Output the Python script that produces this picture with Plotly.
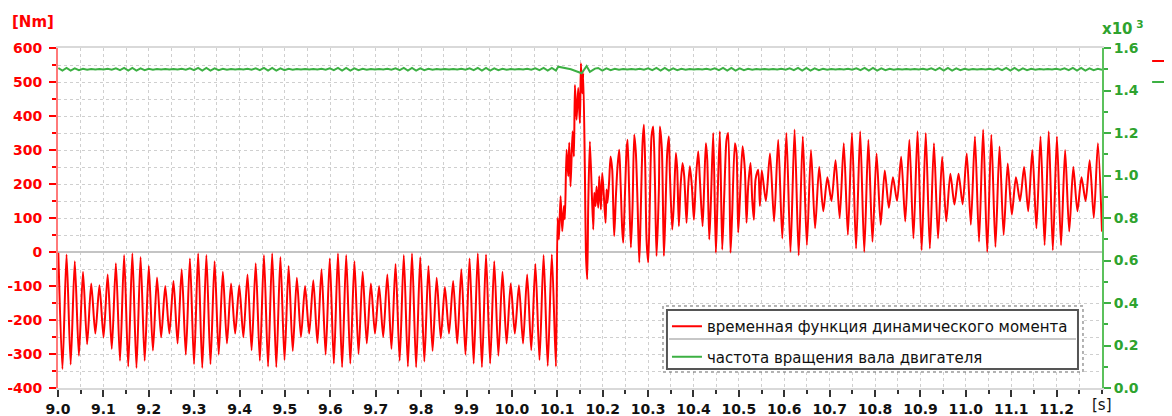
import numpy as np
import plotly.graph_objects as go

# ---------------- data ----------------
x_tick_labels = ["9.0", "9.1", "9.2", "9.3", "9.4", "9.5", "9.6", "9.7", "9.8", "9.9", "10.0",
                 "10.1", "10.2", "10.3", "10.4", "10.5", "10.6", "10.7", "10.8", "10.9", "11.0",
                 "11.1", "11.2"]
y_left_labels = ["-400", "-300", "-200", "-100", "0", "100", "200", "300", "400", "500", "600"]
y_right_labels = ["0.0", "0.2", "0.4", "0.6", "0.8", "1.0", "1.2", "1.4", "1.6"]

# torque [Nm] before the load step: successive extrema, evenly sampled in time
torque_pre_t0, torque_pre_t1 = 9.0007, 10.0970
torque_pre = [-2, -344, -7, -331, -27, -305, -58, -271, -93, -240, -98, -251, -66, -285, -33, -320,
              -9, -337, -4, -341, -15, -320, -41, -290, -75, -251, -100, -240, -85, -269, -51, -302,
              -19, -330, -4, -341, -9, -330, -27, -302, -58,
              -269, -93, -240, -98, -251, -66, -289, -33, -320, -9, -337, -4, -339, -15, -318, -41,
              -291, -76, -250, -100, -240, -83, -268, -51, -302, -19, -328, -4, -339, -9, -328, -27,
              -300, -58, -269, -93, -240, -100, -250, -66,
              -285, -35, -320, -9, -337, -4, -339, -15, -322, -41, -291, -76, -254, -103, -240, -85,
              -269, -51, -302, -19, -328, -4, -339, -7, -328, -27, -305, -58, -269, -93, -240, -98,
              -269, -66, -289, -35, -318, -9, -335, -7, -337]

# torque during the step
torque_step_t = [10.1006, 10.1035, 10.1072, 10.1109, 10.1145, 10.1167, 10.1204, 10.1241, 10.1263,
                 10.1292, 10.1336, 10.1366, 10.1388, 10.1424, 10.1461, 10.1498, 10.1520, 10.1549,
                 10.1571, 10.1608, 10.1630, 10.1659, 10.1681]
torque_step = [100, 37, 164, 61, 135, 96, 301, 223, 321, 193, 355, 281, 491, 389, 482, 379, 555, 467,
               526, 233, -1, -80, 135]

# torque after the step (first part)
torque_post_t = [10.1718, 10.1791, 10.1814, 10.1843, 10.1865, 10.1902, 10.1924, 10.1960, 10.1990,
                 10.2026, 10.2063, 10.2085, 10.2107, 10.2144, 10.2173, 10.2210, 10.2232, 10.2254,
                 10.2291, 10.2327, 10.2364, 10.2394, 10.2430, 10.2452, 10.2489, 10.2526, 10.2548,
                 10.2584, 10.2621, 10.2658, 10.2695, 10.2731, 10.2768, 10.2805, 10.2834, 10.2878,
                 10.2908, 10.2937, 10.2966, 10.3003, 10.3040, 10.3076, 10.3113, 10.3150, 10.3186,
                 10.3238, 10.3260, 10.3304, 10.3348, 10.3377, 10.3421, 10.3458, 10.3480, 10.3532,
                 10.3568, 10.3612, 10.3642, 10.3678, 10.3715, 10.3759, 10.3796, 10.3847, 10.3884,
                 10.3921, 10.3965, 10.4009, 10.4053, 10.4104, 10.4141, 10.4200, 10.4236, 10.4273,
                 10.4303, 10.4347, 10.4383, 10.4435, 10.4493, 10.4530, 10.4581, 10.4633, 10.4677,
                 10.4728, 10.4765, 10.4816, 10.4853, 10.4912, 10.4949, 10.4985, 10.5022, 10.5081,
                 10.5132, 10.5169, 10.5205, 10.5257, 10.5294, 10.5330, 10.5367, 10.5426, 10.5463]
torque_post = [325, 66, 174, 135, 193, 130, 223, 125, 232, 164, 86, 184, 145, 213, 281, 242, 135, 47,
               164, 252, 301, 203, 66, 27, 164, 301, 330, 174, 13, 135, 345, 291, 145, -31, 95, 320,
               374, 252, 37, -31, 154, 340, 369, 213, -12, 184, 369, 301, -12, 95, 291, 340, 232, 66,
               145, 291, 242, 76, 193, 262, 223, 86, 193, 252, 193, 95, 213, 296, 213, 76, 193, 320,
               272, 37, 145, 350, -2, 154, 355, 7, 164, 330, 350, -2, 115, 320, 291, 57, 154, 311,
               242, 86, 193, 262, 154, 95, 213, 242, 135]

# torque after the step (second part): successive extrema, evenly sampled
torque_tail_t0, torque_tail_t1 = 10.5505, 11.3000
torque_tail = [240, 150, 290, 90, 330, 40, 350, 0, 360, -10, 340, 20, 300, 70, 250, 120, 220, 150,
               270, 100, 320, 50, 350, 10, 355, 0, 330, 30, 290, 80, 240, 130, 220, 150, 280, 90,
               330, 40, 355, 5, 350, 10, 320, 40, 280, 90, 230, 140, 230, 140, 290, 80, 340, 30,
               360, 0, 345, 15, 310, 50, 260, 110, 220, 150, 250, 120, 300, 70, 340, 20, 355, 5,
               340, 20, 300, 60, 250, 120, 220, 150, 270, 100, 320, 60]

# shaft speed [rpm]
speed_pre = [1506, 1494, 1506, 1494, 1504, 1496, 1502, 1498, 1501, 1499, 1501, 1499, 1502, 1498,
             1504, 1496, 1506, 1494, 1506, 1494, 1504, 1496, 1502, 1498, 1501, 1499, 1501, 1499,
             1501, 1499, 1502, 1498, 1504, 1496, 1506, 1494, 1506, 1494, 1504, 1496, 1502, 1498,
             1501, 1499, 1501, 1499, 1502, 1498, 1504, 1496, 1506, 1494, 1506, 1494, 1504, 1496,
             1502, 1498, 1501, 1499, 1501, 1499, 1501, 1499, 1502, 1498, 1504, 1496, 1506, 1494,
             1506, 1494, 1504, 1496, 1502, 1498, 1501, 1499, 1501, 1499, 1502, 1498, 1504, 1496,
             1506, 1494, 1506, 1494, 1504, 1496, 1502, 1498, 1501, 1499, 1501, 1499, 1501, 1499,
             1502, 1498, 1504, 1496, 1506, 1494, 1506, 1494, 1504, 1496, 1502, 1498, 1501, 1499,
             1501, 1499, 1502, 1498, 1504, 1496, 1506, 1494, 1506, 1494]
speed_step_t = [10.1020, 10.1300, 10.1535, 10.1645, 10.1718, 10.1830]
speed_step = [1512, 1500, 1481, 1515, 1488, 1503]
speed_post_t0, speed_post_t1 = 10.1900, 11.3000
speed_post = [1506, 1494, 1504, 1496, 1502, 1498, 1501, 1499, 1501, 1499, 1502, 1498, 1504, 1496,
              1506, 1494, 1506, 1494, 1504, 1496, 1502, 1498, 1501, 1499, 1501, 1499, 1502, 1498,
              1504, 1496, 1506, 1494, 1506, 1494, 1504, 1496, 1502, 1498, 1501, 1499, 1501, 1499,
              1501, 1499, 1502, 1498, 1504, 1496, 1506, 1494, 1506, 1494, 1504, 1496, 1502, 1498,
              1501, 1499, 1501, 1499, 1502, 1498, 1504, 1496, 1506, 1494, 1506, 1494, 1504, 1496,
              1502, 1498, 1501, 1499, 1501, 1499, 1501, 1499, 1502, 1498, 1504, 1496, 1506, 1494,
              1506, 1494, 1504, 1496, 1502, 1498, 1501, 1499, 1501, 1499, 1502, 1498, 1504, 1496,
              1506, 1494, 1506, 1494, 1504, 1496, 1502, 1498, 1501, 1499, 1501, 1499, 1502, 1498,
              1504, 1496, 1506, 1494, 1506, 1494, 1504, 1496, 1502, 1498]

name_torque = "временная функция динамического момента"
name_speed = "частота вращения вала двигателя"

# ---------------- assemble ----------------
t_torque = np.concatenate([np.linspace(torque_pre_t0, torque_pre_t1, len(torque_pre)),
                           torque_step_t, torque_post_t,
                           np.linspace(torque_tail_t0, torque_tail_t1, len(torque_tail))])
v_torque = np.concatenate([torque_pre, torque_step, torque_post, torque_tail])

t_speed = np.concatenate([np.linspace(torque_pre_t0, torque_pre_t1, len(speed_pre)),
                          speed_step_t,
                          np.linspace(speed_post_t0, speed_post_t1, len(speed_post))])
v_speed = np.concatenate([speed_pre, speed_step, speed_post]) / 1000.0

RED = "#ff0000"
GREEN = "#3cb043"
GREEN_TXT = "#2ea32e"
FONT = "DejaVu Sans"
GRID = "#cfcfcf"

fig = go.Figure()
fig.add_trace(go.Scatter(x=t_torque, y=v_torque, mode="lines", name=name_torque,
                         legendgroup="a",
                         line=dict(color=RED, width=2, shape="spline", smoothing=0.7)))
fig.add_trace(go.Scatter(x=t_speed, y=v_speed, mode="lines", name=name_speed, yaxis="y2",
                         legendgroup="b",
                         line=dict(color=GREEN, width=2)))

x_vals = [float(s) for s in x_tick_labels]

# the page body adds an 8 px offset, so the figure is 8 px smaller on each axis
fig.update_layout(
    width=1164, height=408,
    margin=dict(l=50, r=70, t=40, b=28, autoexpand=False),
    paper_bgcolor="white", plot_bgcolor="white",
    font=dict(family=FONT),
    showlegend=True,
    legend=dict(x=0.5833, y=0.2294, xanchor="left", yanchor="top",
                bgcolor="rgba(0,0,0,0)", borderwidth=0,
                font=dict(family=FONT, size=15, color="#111"),
                traceorder="grouped", tracegroupgap=8),
    xaxis=dict(range=[9.0, 11.3], tickmode="array", tickvals=x_vals, ticktext=x_tick_labels,
               automargin=False,
               ticks="outside", ticklen=7, tickwidth=1.5, tickcolor="#333",
               tickfont=dict(family=FONT, size=14, color="#111", weight="bold"),
               showgrid=True, gridcolor=GRID, griddash="dot", gridwidth=1,
               minor=dict(tickmode="linear", tick0=9.0, dtick=0.05, ticks="outside", ticklen=4,
                          tickcolor="#333", showgrid=True, gridcolor=GRID, griddash="dot"),
               showline=True, linecolor="#d9d9d9", linewidth=2, mirror=True, zeroline=False),
    yaxis=dict(range=[-400, 600], tickmode="array",
               tickvals=[float(s) for s in y_left_labels], ticktext=y_left_labels,
               automargin=False,
               ticks="outside", ticklen=7, tickwidth=1.5, tickcolor=RED,
               tickfont=dict(family=FONT, size=14, color=RED, weight="bold"),
               ticklabelstandoff=4,
               showgrid=True, gridcolor=GRID, griddash="dot", gridwidth=1,
               minor=dict(tickmode="linear", tick0=-400, dtick=50, ticks="outside", ticklen=4,
                          tickcolor=RED, showgrid=True, gridcolor=GRID, griddash="dot"),
               showline=True, linecolor="#ff7a7a", linewidth=2,
               zeroline=True, zerolinecolor="#c4c4c4", zerolinewidth=1.5),
    yaxis2=dict(range=[0, 1.6], overlaying="y", side="right", tickmode="array",
                tickvals=[float(s) for s in y_right_labels], ticktext=y_right_labels,
                automargin=False,
                ticks="outside", ticklen=7, tickwidth=1.5, tickcolor=GREEN,
                tickfont=dict(family=FONT, size=14, color=GREEN_TXT, weight="bold"),
                minor=dict(tickmode="linear", tick0=0, dtick=0.1, ticks="outside", ticklen=4,
                           tickcolor=GREEN),
                showgrid=False, zeroline=False,
                showline=True, linecolor="#5cc15c", linewidth=2),
)

# legend frame (double border with separator)
fig.add_shape(type="rect", xref="paper", yref="paper", x0=0.5795, x1=0.9818, y0=0.0471, y1=0.2412,
              fillcolor="white", line=dict(color="#666", width=1, dash="dot"), layer="above")
fig.add_shape(type="rect", xref="paper", yref="paper", x0=0.5833, x1=0.9770, y0=0.0559, y1=0.2294,
              fillcolor="white", line=dict(color="#555", width=2), layer="above")
fig.add_shape(type="line", xref="paper", yref="paper", x0=0.5853, x1=0.9751, y0=0.1441, y1=0.1441,
              line=dict(color="#b4b4b4", width=1.5), layer="above")

# cut-off outer legend at the right edge
fig.add_shape(type="line", xref="paper", yref="paper", x0=1.048, x1=1.075, y0=0.9618, y1=0.9618,
              line=dict(color=RED, width=2), layer="above")
fig.add_shape(type="line", xref="paper", yref="paper", x0=1.048, x1=1.075, y0=0.90, y1=0.90,
              line=dict(color=GREEN, width=2), layer="above")

fig.add_annotation(text="[Nm]", xref="paper", yref="paper", x=0, y=1, xanchor="right",
                   yanchor="middle", xshift=-2, yshift=26, showarrow=False,
                   font=dict(family=FONT, size=15, color=RED, weight="bold"))
fig.add_annotation(text="x10<sup> 3</sup>", xref="paper", yref="paper", x=1, y=1, xanchor="left",
                   yanchor="middle", xshift=-2, yshift=20, showarrow=False,
                   font=dict(family=FONT, size=15, color=GREEN_TXT, weight="bold"))
fig.add_annotation(text="[s]", xref="x", yref="paper", x=11.3, y=0, xanchor="center",
                   yanchor="top", yshift=-6, showarrow=False,
                   font=dict(family=FONT, size=15, color="#111"))

fig.write_html("out.html")
